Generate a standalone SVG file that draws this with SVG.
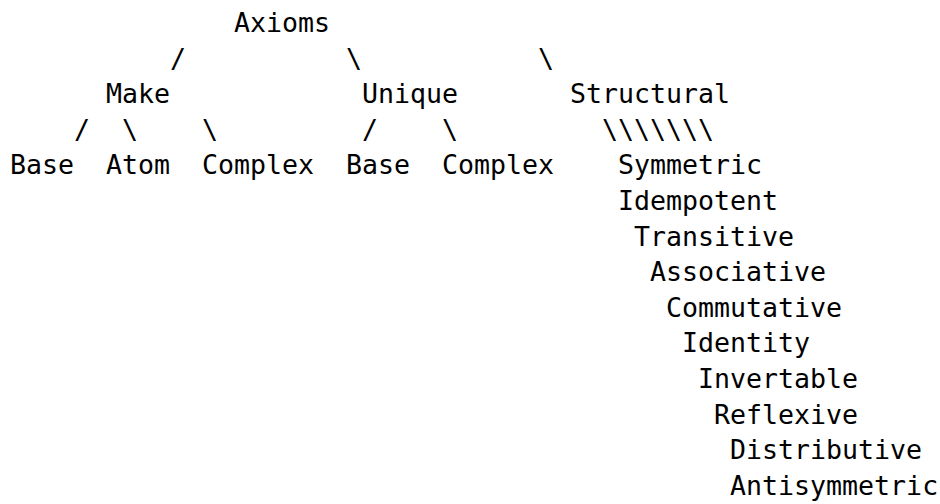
<svg xmlns="http://www.w3.org/2000/svg" width="940" height="504" viewBox="0 0 940 504">
<style>
text{font-family:"DejaVu Sans Mono","Liberation Mono",monospace;font-size:26.6px;fill:#000;white-space:pre}
</style>
<rect width="940" height="504" fill="#fff"/>
<g id="connectors">
<text x="170" y="67.6">/</text>
<text x="346" y="67.6">\</text>
<text x="538" y="67.6">\</text>
<text x="74" y="138.8">/</text>
<text x="122" y="138.8">\</text>
<text x="202" y="138.8">\</text>
<text x="362" y="138.8">/</text>
<text x="442" y="138.8">\</text>
<text x="602" y="138.8">\\\\\\\</text>
</g>
<g id="axioms"><text x="234" y="32">Axioms</text></g>
<g id="make"><text x="106" y="103.2">Make</text></g>
<g id="unique"><text x="362" y="103.2">Unique</text></g>
<g id="structural"><text x="570" y="103.2">Structural</text></g>
<g id="make-base"><text x="10" y="174.4">Base</text></g>
<g id="make-atom"><text x="106" y="174.4">Atom</text></g>
<g id="make-complex"><text x="202" y="174.4">Complex</text></g>
<g id="unique-base"><text x="346" y="174.4">Base</text></g>
<g id="unique-complex"><text x="442" y="174.4">Complex</text></g>
<g id="symmetric"><text x="618" y="174.4">Symmetric</text></g>
<g id="idempotent"><text x="618" y="210">Idempotent</text></g>
<g id="transitive"><text x="634" y="245.6">Transitive</text></g>
<g id="associative"><text x="650" y="281.2">Associative</text></g>
<g id="commutative"><text x="666" y="316.8">Commutative</text></g>
<g id="identity"><text x="682" y="352.4">Identity</text></g>
<g id="invertable"><text x="698" y="388">Invertable</text></g>
<g id="reflexive"><text x="714" y="423.6">Reflexive</text></g>
<g id="distributive"><text x="730" y="459.2">Distributive</text></g>
<g id="antisymmetric"><text x="730" y="494.8">Antisymmetric</text></g>
</svg>
